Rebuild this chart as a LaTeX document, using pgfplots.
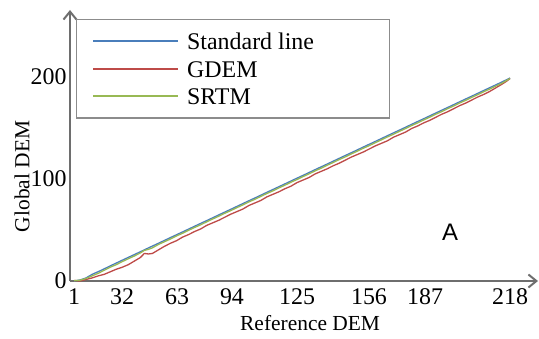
\documentclass[border=0pt]{standalone}
\usepackage{fontspec}
\setmainfont{Liberation Serif}
\newfontfamily\arialfont{Liberation Sans}
\usepackage{pgfplots}
\pgfplotsset{compat=1.18}
\usetikzlibrary{arrows.meta}

\definecolor{stdblue}{HTML}{4A7EBB}
\definecolor{gdemred}{HTML}{BE4B48}
\definecolor{srtmgreen}{HTML}{98B954}
\definecolor{axisgray}{HTML}{6E6E6E}
\definecolor{boxgray}{HTML}{8C8C8C}

% fixed-height strut for legend text rows
\newcommand{\legstrut}{\rule[-6bp]{0pt}{24bp}}

\begin{document}
\begin{tikzpicture}
\begin{axis}[
  name=ax,
  scale only axis,
  width=468bp, height=271bp,
  xmin=-1, xmax=231.9,
  ymin=0, ymax=265.7,
  axis lines=left,
  axis line style={draw=axisgray, line width=2.5bp, -{Straight Barb[length=8bp,width=13bp,line width=2bp]}},
  major tick length=0pt,
  xtick={1,24.9,52.3,79.6,112,147.8,175.7,218},
  xticklabels={1,32,63,94,125,156,187,218},
  ytick={0,100,200},
  /pgf/number format/assume math mode=true,
  tick label style={font=\fontsize{24}{28}\selectfont, text=black},
  xticklabel style={anchor=north, yshift=-4bp},
  yticklabel style={anchor=east},
  xlabel={Reference DEM},
  ylabel={Global DEM},
  label style={font=\fontsize{21.5}{24}\selectfont},
  xlabel style={at={(axis description cs:0.513,-0.155)}, anchor=center},
  ylabel style={at={(axis description cs:-0.1026,0.386)}, anchor=center, rotate=0},
  legend style={
    at={(rel axis cs:0.0128,0.967)}, anchor=north west,
    draw=boxgray, line width=1.2bp,
    inner xsep=16bp, inner ysep=10bp,
    column sep=6bp, row sep=4bp,
    font=\fontsize{24}{28}\selectfont,
  },
  legend cell align=left,
  legend image code/.code={\draw[#1, line width=1.6bp] (0bp,0bp) -- (85bp,0bp);},
  every axis plot/.append style={line width=1.3bp},
  clip=false,
]
% standard line
\addplot[draw=stdblue] coordinates {
(1,0) (4,1) (7,3) (10,6.5) (14,10) (20,15.7) (26,21.3) (32,26.8) (38,32.4)
(44,37.9) (50,43.5) (56,49) (62,54.6) (68,60.1) (74,65.7) (80,71.2) (86,76.8)
(92,82.3) (98,87.9) (104,93.4) (110,99) (116,104.5) (122,110.1) (128,115.6)
(134,121.2) (140,126.7) (146,132.3) (152,137.8) (158,143.4) (164,148.9)
(170,154.5) (176,160) (182,165.6) (188,171.1) (194,176.7) (200,182.2)
(206,187.8) (212,193.3) (216,197.1) (218,199)
};
\addlegendentry{\legstrut\makebox[184bp][l]{Standard line}}
% GDEM
\addplot[draw=gdemred] coordinates {
(1,0.5) (4,0) (7,1.5) (10,3) (13,5) (16,6.5) (19,9) (22,11.5) (25,13.5)
(28,16) (31,19.5) (34,23) (36,27) (38,26.5) (40,27) (43,30.5) (46,34)
(49,37) (52,39.5) (55,43) (58,45.5) (61,48.5) (64,51) (67,54.5) (70,57)
(73,59.5) (76,62.5) (79,65.5) (82,68) (85,70.5) (88,74) (91,76.5) (94,79)
(97,82.5) (100,85) (103,87.5) (106,90.5) (109,93) (112,96.5) (115,99)
(118,101.5) (121,105) (124,107.5) (127,110) (130,113) (133,115.5) (136,118.5)
(139,121.5) (142,124) (145,126.5) (148,129.5) (151,132.5) (154,135)
(157,137.5) (160,141) (163,143.5) (166,146) (169,149.5) (172,152) (175,155)
(178,157.5) (181,160.5) (184,163.5) (187,166) (190,169) (193,172) (196,174.5)
(199,177.5) (202,180.5) (205,183) (208,186) (211,189.5) (214,193) (216,195.5)
(218,198.5)
};
\addlegendentry{\legstrut GDEM}
% SRTM
\addplot[draw=srtmgreen] coordinates {
(1,0.3) (4,0.8) (7,2.5) (10,5) (13,7.5) (16,10.5) (19,13.5) (22,16) (25,19)
(28,21.8) (31,24.5) (34,27.5) (36,30) (38,31) (40,32.5) (43,35.8) (46,38.5)
(49,41.2) (52,44.2) (55,46.8) (58,49.7) (61,52.5) (64,55.1) (67,58) (70,60.8)
(73,63.5) (76,66.4) (79,69) (82,71.9) (85,74.6) (88,77.5) (91,80.1) (94,83)
(97,85.8) (100,88.4) (103,91.3) (106,94) (109,96.9) (112,99.5) (115,102.4)
(118,105.1) (121,108) (124,110.6) (127,113.5) (130,116.2) (133,119.1)
(136,121.7) (139,124.6) (142,127.3) (145,130.2) (148,132.8) (151,135.7)
(154,138.4) (157,141.3) (160,143.9) (163,146.8) (166,149.5) (169,152.4)
(172,155) (175,157.9) (178,160.6) (181,163.5) (184,166.1) (187,169)
(190,171.7) (193,174.6) (196,177.2) (199,180.1) (202,182.8) (205,185.7)
(208,188.3) (211,191.2) (214,194) (216,196.3) (218,198.5)
};
\addlegendentry{\legstrut SRTM}
\node[font=\arialfont\fontsize{24}{28}\selectfont, anchor=center]
  at (rel axis cs:0.812,0.181) {A};
\end{axis}
\pgfresetboundingbox
\path ([shift={(-70bp,-58bp)}]ax.south west) rectangle ([shift={(1bp,10bp)}]ax.north east);
\end{tikzpicture}
\end{document}
